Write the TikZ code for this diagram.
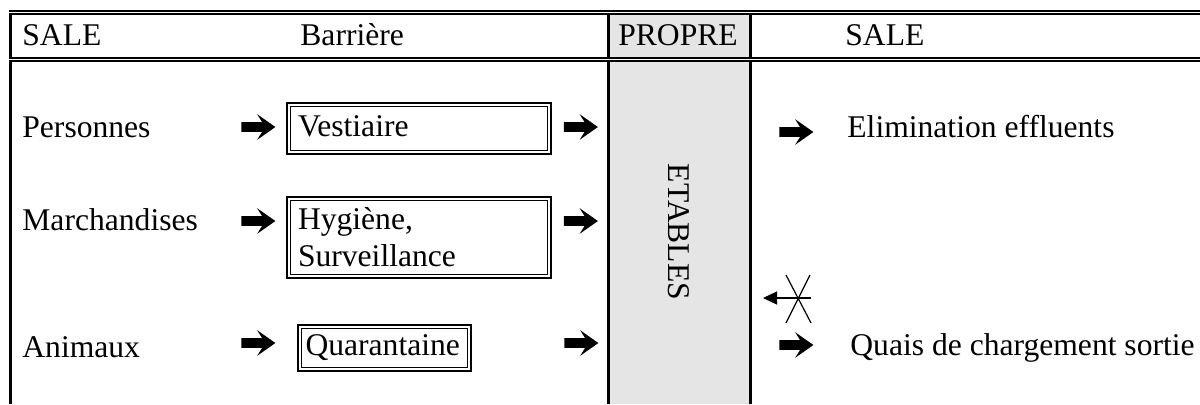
\documentclass[tikz,border=0pt]{standalone}
\usepackage{fontspec}
\setmainfont{Liberation Serif}
\usepackage{xcolor}
\usetikzlibrary{positioning,calc,shapes.arrows,arrows.meta}
\newcommand{\taille}{\fontsize{15.8}{18.4}\selectfont}
\definecolor{grisclair}{gray}{0.9}
\tikzset{
  txt/.style={anchor=base west, inner sep=0pt},
  boite/.style={draw, line width=1.2pt, inner ysep=0pt, inner xsep=5.5pt, align=left,
    path picture={\draw[line width=0.5pt]
      ([shift={(1.6pt,1.6pt)}]path picture bounding box.south west) rectangle
      ([shift={(-1.6pt,-1.6pt)}]path picture bounding box.north east);}},
  fleche/.style={single arrow, fill=black, inner xsep=0pt, inner ysep=2.2pt,
    minimum height=17pt, single arrow head extend=4pt,
    single arrow tip angle=70, single arrow head indent=2.5pt},
  doubletrait/.style={line width=0.9pt, double, double distance=0.8pt},
  bord/.style={line width=1.5pt}
}
\begin{document}
\begin{tikzpicture}[x=0.5pt, y=-0.5pt, font=\taille]
    \useasboundingbox (0,0) rectangle (1200,404);
    % colonne propre
    \fill[grisclair] (610,13) rectangle (748.5,404);
    \draw[bord] (10.5,11) -- (10.5,404);
    \draw[bord] (608.5,13) -- (608.5,404);
    \draw[bord] (750,13) -- (750,404);
    \draw[doubletrait] (9,12.5) -- (1200,12.5);
    \draw[doubletrait] (9,59.5) -- (1200,59.5);
    % en-tete
    \node[txt] (sale1) at (22,45) {SALE};
    \node[txt] (barr) at (300,45) {Barrière};
    \node[anchor=base, inner sep=0pt] (propre) at (678,45) {PROPRE};
    \node[txt] (sale2) at (845,45) {SALE};
    % entrees
    \node[txt] (pers) at (22,137) {Personnes};
    \node[txt] (march) at (22,230) {Marchandises};
    \node[txt] (anim) at (22,357) {Animaux};
    \node[fleche] (f1g) at (255,127) {};
    \node[fleche] (f2g) at (255,221) {};
    \node[fleche] (f3g) at (255,343) {};
    % barrieres
    \node[boite, minimum width=132pt, minimum height=25.5pt, text width=121pt,
      text height=11pt, text depth=3.5pt] (vest) at (419,128.5) {Vestiaire};
    \node[boite, minimum width=132pt, minimum height=40.5pt, text width=121pt]
      (hyg) at (419,237.5) {Hygiène,\\Surveillance};
    \node[boite, minimum width=86.5pt, minimum height=23pt, text width=79pt, inner xsep=3.75pt,
      text height=11pt, text depth=3.5pt] (quar) at (384.5,348) {Quarantaine};
    \node[fleche] (f1d) at (577.5,127) {};
    \node[fleche] (f2d) at (577.5,221) {};
    \node[fleche] (f3d) at (578,343) {};
    % etables
    \node[rotate=-90, inner sep=0pt] (etab) at (679,232) {ETABLES};
    % sorties
    \node[fleche] (f4) at (793,132) {};
    \node[txt] (elim) at (847,137) {Elimination effluents};
    \coordinate (xc) at (798,298);
    \draw[line width=0.6pt, {Triangle[length=7pt,width=6.5pt]}-] ($(xc)+(-35,0)$) -- ($(xc)+(13,0)$);
    \draw[line width=0.6pt] ($(xc)+(-12,-23)$) -- ($(xc)+(13,25)$);
    \draw[line width=0.6pt] ($(xc)+(12,-23)$) -- ($(xc)+(-12,25)$);
    \node[fleche] (f5) at (793,345) {};
    \node[txt] (quais) at (850,355) {Quais de chargement sortie};
\end{tikzpicture}
\end{document}
